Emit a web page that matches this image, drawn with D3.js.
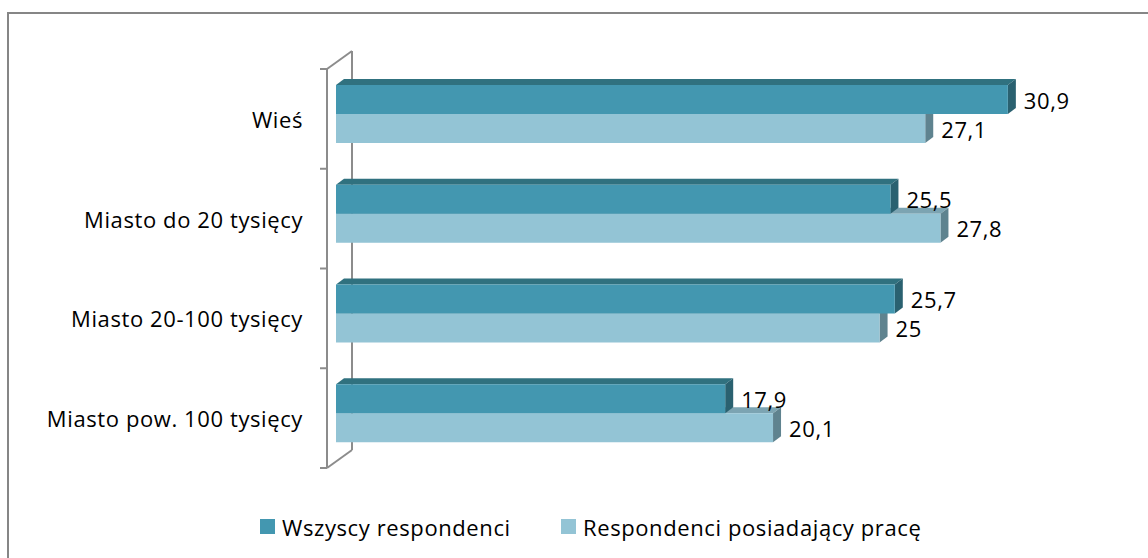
<!DOCTYPE html>
<html>
<head>
<meta charset="utf-8">
<script src="https://cdn.jsdelivr.net/npm/d3@7"></script>
<style>
  body { margin: 0; background: #fff; }
  text { font-family: "Open Sans", sans-serif; font-size: 22px; letter-spacing: 0.6px; fill: #000; }
</style>
</head>
<body>
<svg id="chart" width="1148" height="558"></svg>
<script>
// data
var categories = ["Wieś", "Miasto do 20 tysięcy", "Miasto 20-100 tysięcy", "Miasto pow. 100 tysięcy"];
var seriesNames = ["Wszyscy respondenci", "Respondenci posiadający pracę"];
var allValues = [30.9, 25.5, 25.7, 17.9];
var workingValues = [27.1, 27.8, 25, 20.1];

var svg = d3.select("#chart");

// colours: front, top, side
var darkClr = { front: "#4397b0", top: "#30717f", side: "#2a6170" };
var lightClr = { front: "#93c4d5", top: "#7ca4b2", side: "#5f838f" };
var axisClr = "#8c8c8c";

// outer frame (right and bottom edges are cut off in the reference)
svg.append("rect")
  .attr("x", 8).attr("y", 13)
  .attr("width", 1160).attr("height", 570)
  .attr("fill", "none")
  .attr("stroke", "#868686")
  .attr("stroke-width", 2);

var x = d3.scaleLinear().domain([0, 35]).range([336, 1097]);
var y = d3.scaleBand().domain(categories).range([69, 468]);

var depthX = 8, depthY = 6;   // bar 3d offset
var wallX = 25, wallY = 18;   // axis wall offset
var barH = 29, barGap = 16;

// axis wall
var front = 327, back = front + wallX;
var axisG = svg.append("g")
  .attr("stroke", axisClr)
  .attr("stroke-width", 2)
  .attr("fill", "none");

axisG.append("path")
  .attr("d", "M" + back + "," + (y.range()[0] - wallY) + "V" + (y.range()[1] - wallY));
axisG.append("path")
  .attr("d", "M" + front + "," + y.range()[0] + "V" + y.range()[1]);
axisG.append("path")
  .attr("d", "M" + front + "," + y.range()[0] + "L" + back + "," + (y.range()[0] - wallY));
axisG.append("path")
  .attr("d", "M" + front + "," + y.range()[1] + "L" + back + "," + (y.range()[1] - wallY));

var tickPos = categories.map(function(c){ return y(c); }).concat([y.range()[1]]);
axisG.selectAll("line.tick")
  .data(tickPos)
  .enter()
  .append("line")
  .attr("class", "tick")
  .attr("x1", front - 7).attr("x2", front)
  .attr("y1", function(d){ return d; })
  .attr("y2", function(d){ return d; });

// category labels
svg.selectAll("text.cat")
  .data(categories)
  .enter()
  .append("text")
  .attr("class", "cat")
  .attr("x", 303)
  .attr("y", function(d){ return y(d) + y.bandwidth() / 2; })
  .attr("text-anchor", "end")
  .attr("dominant-baseline", "central")
  .text(function(d){ return d; });

function drawBar(g, v, top, clr){
  var x0 = x(0), x1 = x(v), bottom = top + barH;
  // top face
  g.append("polygon")
    .attr("points", [[x0, top], [x0 + depthX, top - depthY], [x1 + depthX, top - depthY], [x1, top]].join(" "))
    .attr("fill", clr.top);
  // side face
  g.append("polygon")
    .attr("points", [[x1, top], [x1 + depthX, top - depthY], [x1 + depthX, bottom - depthY], [x1, bottom]].join(" "))
    .attr("fill", clr.side);
  // front face
  g.append("rect")
    .attr("x", x0).attr("y", top)
    .attr("width", x1 - x0).attr("height", barH)
    .attr("fill", clr.front);
}

var bars = svg.append("g");
categories.forEach(function(c, i){
  var top = y(c) + barGap;
  // lower (light) bar first so the dark bar covers its top face
  drawBar(bars, workingValues[i], top + barH, lightClr);
  drawBar(bars, allValues[i], top, darkClr);
});

var fmt = function(v){ return String(v).replace(".", ","); };

function addLabels(vals, offset){
  svg.selectAll(null)
    .data(vals)
    .enter()
    .append("text")
    .attr("x", function(d){ return x(d) + 16; })
    .attr("y", function(d, i){ return y(categories[i]) + barGap + offset + barH / 2; })
    .attr("dominant-baseline", "central")
    .text(fmt);
}
addLabels(allValues, 0);
addLabels(workingValues, barH);

// legend
var legendX = [260, 561];
var legend = svg.selectAll("g.legend")
  .data(seriesNames)
  .enter()
  .append("g")
  .attr("class", "legend")
  .attr("transform", function(d, i){ return "translate(" + legendX[i] + ",519)"; });
legend.append("rect")
  .attr("width", 15).attr("height", 15)
  .attr("fill", function(d, i){ return i == 0 ? darkClr.front : lightClr.front; });
legend.append("text")
  .attr("x", 22).attr("y", 8)
  .attr("dominant-baseline", "central")
  .text(function(d){ return d; });
</script>
</body>
</html>
